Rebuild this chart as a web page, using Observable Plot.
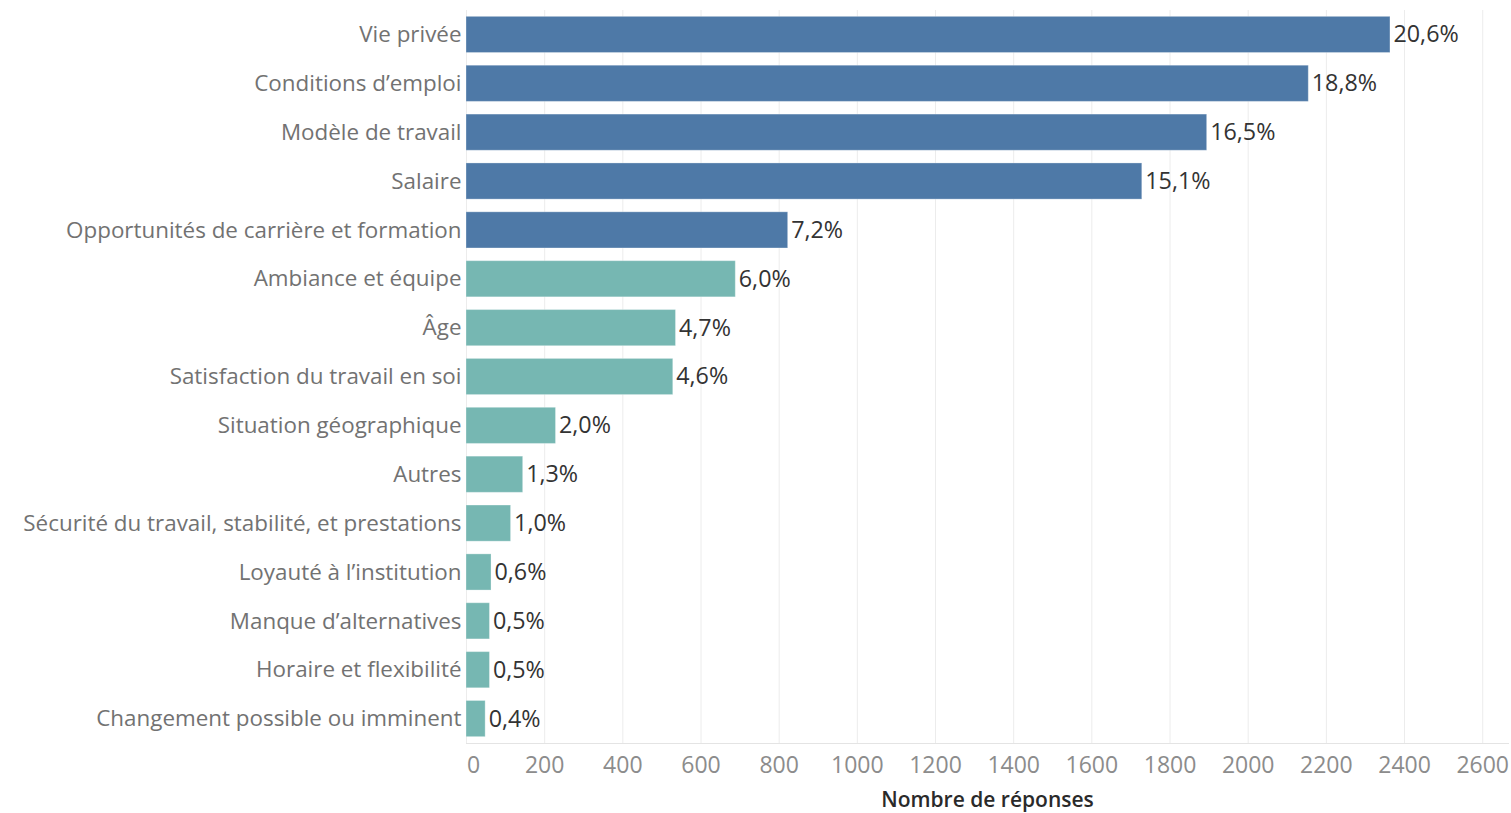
<!DOCTYPE html>
<html><head><meta charset="utf-8">
<script src="https://cdn.jsdelivr.net/npm/d3@7"></script>
<script src="https://cdn.jsdelivr.net/npm/@observablehq/plot@0.6"></script>
<style>body{margin:0;background:#fff;overflow:hidden;}</style>
</head><body><div id="chart"></div>
<script>
const categories = [
  "Vie privée",
  "Conditions d’emploi",
  "Modèle de travail",
  "Salaire",
  "Opportunités de carrière et formation",
  "Ambiance et équipe",
  "Âge",
  "Satisfaction du travail en soi",
  "Situation géographique",
  "Autres",
  "Sécurité du travail, stabilité, et prestations",
  "Loyauté à l’institution",
  "Manque d’alternatives",
  "Horaire et flexibilité",
  "Changement possible ou imminent"
];
const responses = [2364, 2155, 1895, 1729, 823, 689, 536, 529, 229, 145, 114, 64, 60, 60, 49];
const percentLabels = ["20,6%", "18,8%", "16,5%", "15,1%", "7,2%", "6,0%", "4,7%", "4,6%", "2,0%", "1,3%", "1,0%", "0,6%", "0,5%", "0,5%", "0,4%"];
const groups = ["top","top","top","top","top","other","other","other","other","other","other","other","other","other","other"];
const xTicks = [0, 200, 400, 600, 800, 1000, 1200, 1400, 1600, 1800, 2000, 2200, 2400, 2600];
const axisTitle = "Nombre de réponses";

const data = categories.map((c, i) => ({category: c, responses: responses[i], pct: percentLabels[i], group: groups[i]}));

const chart = Plot.plot({
  width: 1511,
  height: 813,
  marginLeft: 466,
  marginRight: 3,
  marginTop: 10,
  marginBottom: 70,
  style: {fontFamily: "'Open Sans', sans-serif", fontSize: "22px", background: "#fff"},
  x: {domain: [0, 2666]},
  y: {domain: categories, paddingInner: 0.26, paddingOuter: 0.13, round: false},
  color: {domain: ["top", "other"], range: ["#4e79a7", "#76b7b2"]},
  marks: [
    Plot.gridX(xTicks, {stroke: "#ececec", strokeOpacity: 1}),
    Plot.frame({anchor: "bottom", stroke: "#e4e4e4"}),
    Plot.barX(data, {x: "responses", y: "category", fill: "group", stroke: "#ffffff", strokeOpacity: 0.3}),
    Plot.text(data, {x: "responses", y: "category", text: "pct", textAnchor: "start", dx: 3, fill: "#333333", fontSize: 23.3}),
    Plot.axisY({tickSize: 0, tickPadding: 5, label: null, fill: "#727272", fontSize: 22.4}),
    Plot.axisX(xTicks.slice(0, 1), {tickSize: 0, tickPadding: 13, label: null, fill: "#8c8c8c", dx: 7, fontSize: 23, tickFormat: d => String(d)}),
    Plot.axisX(xTicks.slice(1), {tickSize: 0, tickPadding: 13, label: null, fill: "#8c8c8c", fontSize: 23, tickFormat: d => String(d)}),
    Plot.text([axisTitle], {frameAnchor: "bottom", dy: 63, fill: "#2a2a2a", fontWeight: 600, fontSize: 21})
  ]
});
document.getElementById("chart").appendChild(chart);
</script>
</body></html>
